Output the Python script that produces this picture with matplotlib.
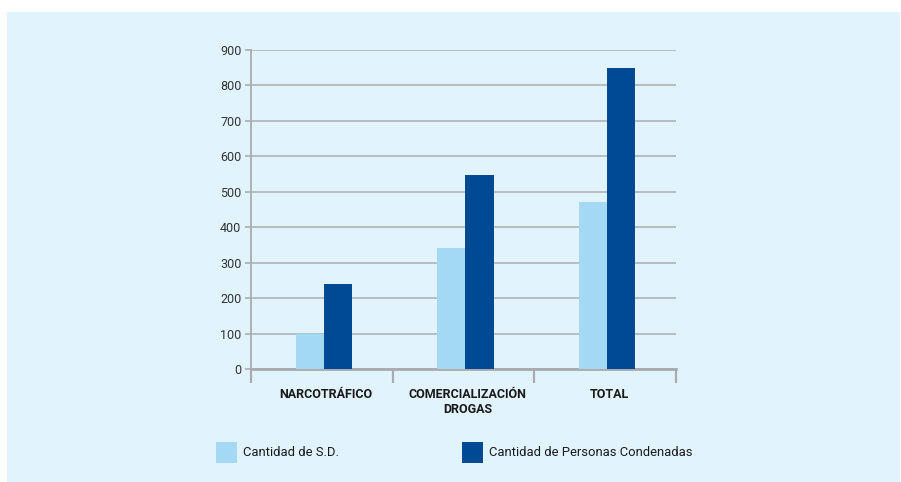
import matplotlib
matplotlib.use("Agg")
import matplotlib.pyplot as plt
from matplotlib.patches import Rectangle
import numpy as np

categories = ["NARCOTRÁFICO", "COMERCIALIZACIÓN\nDROGAS", "TOTAL"]
series_names = ["Cantidad de S.D.", "Cantidad de Personas Condenadas"]
sd_values = [100, 342, 472]
condenadas_values = [240, 548, 850]
yticks = [0, 100, 200, 300, 400, 500, 600, 700, 800, 900]

plt.rcParams['font.family'] = ['Roboto', 'DejaVu Sans']

W, H = 901, 482
fig = plt.figure(figsize=(W / 100, H / 100), dpi=100)
fig.patch.set_facecolor("white")
bg = "#E1F3FC"
fig.add_artist(Rectangle((7 / W, 0), (900 - 7) / W, (H - 12) / H,
                         transform=fig.transFigure, facecolor=bg,
                         edgecolor="none", zorder=-10))

ax = fig.add_axes([251 / W, (H - 369) / H, 425 / W, (369 - 50) / H])
ax.set_facecolor(bg)

light = "#A3D9F5"
dark = "#004A93"
x = np.arange(len(categories))
bw = 0.198
off = 0.014
ax.bar(x + off - bw / 2, sd_values, width=bw, color=light, zorder=3, linewidth=0)
ax.bar(x + off + bw / 2, condenadas_values, width=bw, color=dark, zorder=3, linewidth=0)

ax.set_ylim(0, 900)
ax.set_xlim(-0.5, len(categories) - 0.5)
ax.set_yticks(yticks)
ax.set_yticklabels([str(v) for v in yticks], fontsize=9, color="#333333")
ax.yaxis.grid(True, color="#B4B8BC", linewidth=1.3, zorder=0)
ax.set_axisbelow(True)
ax.tick_params(axis="y", length=4, width=1.2, color="#A8ACB0", pad=3)

ax.set_xticks(np.arange(-0.5, len(categories), 1.0))
ax.set_xticklabels([])
ax.set_xticks(x + 2 * off, minor=True)
ax.set_xticklabels(categories, minor=True, fontsize=9, fontweight="bold",
                   color="#1a1a1a", linespacing=1.15)
ax.tick_params(axis="x", which="major", length=10, width=1.6, color="#A8ACB0")
ax.tick_params(axis="x", which="minor", length=0, pad=14)
for lab in ax.get_xticklabels(minor=True):
    lab.set_verticalalignment("top")

for s in ["top", "right"]:
    ax.spines[s].set_visible(False)
ax.spines["left"].set_color("#A8ACB0")
ax.spines["left"].set_linewidth(1.3)
ax.spines["bottom"].set_color("#A8ACB0")
ax.spines["bottom"].set_linewidth(2)

# legend
for px, name, col in [(216, series_names[0], light), (462, series_names[1], dark)]:
    fig.add_artist(Rectangle((px / W, (H - 463) / H), 21 / W, 21 / H,
                             transform=fig.transFigure, facecolor=col,
                             edgecolor="none"))
    fig.text((px + 27) / W, (H - 453) / H, name, fontsize=9.4,
             color="#1a1a1a", va="center", ha="left")

fig.savefig("out.png", dpi=100, facecolor=fig.get_facecolor())
